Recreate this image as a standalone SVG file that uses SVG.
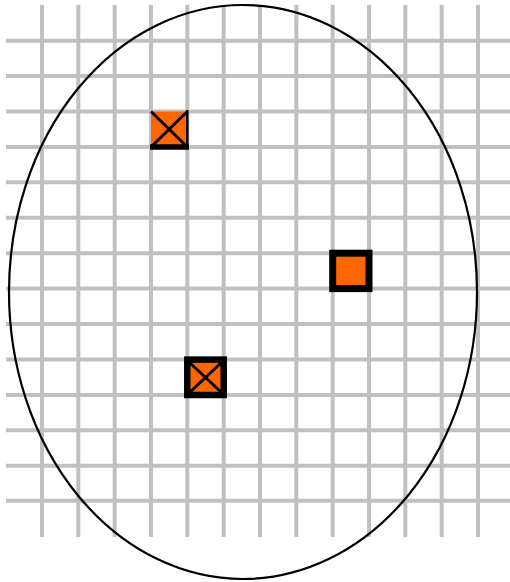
<svg xmlns="http://www.w3.org/2000/svg" width="510" height="582" viewBox="0 0 510 582">
<style>
.g{stroke:#c0c0c0;stroke-width:4;fill:none}
.k{stroke:#000;fill:none}
.m{fill:#ff6600}
.mk{fill:#ff6600;stroke:#000}
</style>
<rect width="510" height="582" fill="#fff"/>
<g id="grid" class="g">
<path d="M42 5V537M78.3 5V537M114.7 5V537M151 5V537M187.3 5V537M223.7 5V537M260 5V537M296.3 5V537M332.7 5V537M369 5V537M405.3 5V537M441.7 5V537M478 5V537"/>
<path d="M6 40.7H510M6 76H510M6 111.5H510M6 147H510M6 182.3H510M6 217.8H510M6 253.2H510M6 288.6H510M6 324H510M6 359.6H510M6 395H510M6 430.3H510M6 465.7H510M6 500.7H510"/>
</g>
<g id="ellipse">
<ellipse cx="243" cy="292" rx="234" ry="287" fill="none" stroke="#000" stroke-width="2.2"/>
</g>
<g id="marker1">
<rect class="m" x="151" y="111.5" width="36.3" height="35.5"/>
<path class="k" stroke-width="2.5" d="M187.3 110V148"/>
<path class="k" stroke-width="5.5" d="M150 147H189"/>
<path class="k" stroke-width="3" d="M151 111.5L187.3 147M151 147L187.3 111.5"/>
</g>
<g id="marker2">
<rect class="mk" x="332.7" y="253.2" width="36.3" height="35.4" stroke-width="7"/>
</g>
<g id="marker3">
<rect class="mk" x="187.3" y="359.6" width="36.4" height="35.4" stroke-width="6.5"/>
<path class="k" stroke-width="3" d="M189 362L222 393M189 393L222 362"/>
</g>
</svg>
